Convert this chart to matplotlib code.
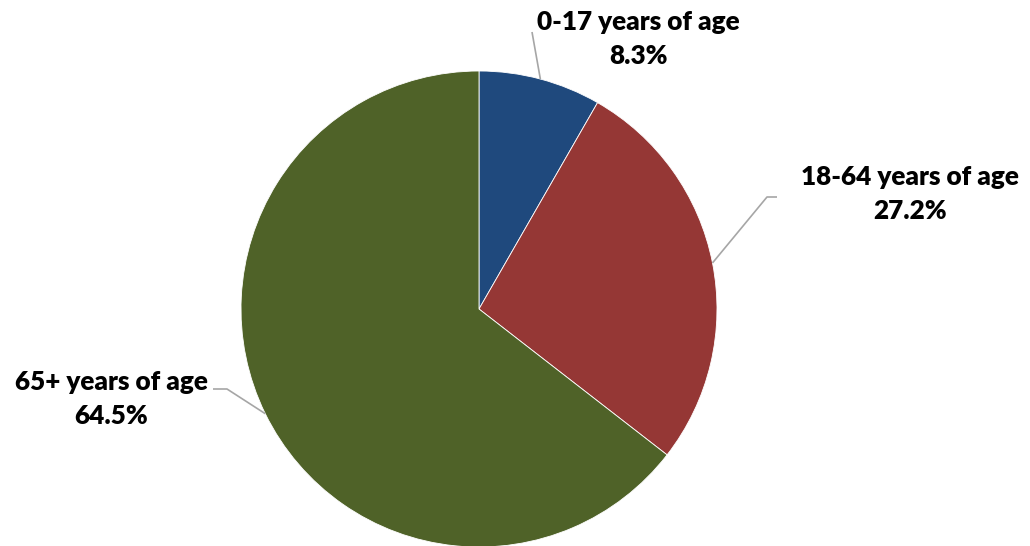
import numpy as np
import matplotlib
matplotlib.use("Agg")
import matplotlib.pyplot as plt

categories = ["0-17 years of age", "18-64 years of age", "65+ years of age"]
values = [8.3, 27.2, 64.5]
colors = ["#1F497D", "#953735", "#4F6228"]

W, H = 1030, 546
fig = plt.figure(figsize=(W / 100, H / 100), dpi=100)
ax = fig.add_axes([0, 0, 1, 1])

cx, cy, r = 479, H - 309, 238
wedges, _ = ax.pie(values, colors=colors, startangle=90, counterclock=False,
                   center=(cx, cy), radius=r, frame=True,
                   wedgeprops=dict(edgecolor="white", linewidth=0.6))
ax.set_xlim(0, W)
ax.set_ylim(0, H)
ax.set_aspect("equal")
ax.axis("off")

# label layout: (text center x, text center y in px from top, leader path elbows in px from top)
label_pos = [(638, 39, [(532, 32)]),
             (910, 194, [(767, 197), (777, 197)]),
             (111, 399, [(227, 389), (213, 389)])]

font = dict(family=["Lato", "DejaVu Sans"], fontsize=18.8, fontweight="heavy", color="black")
cum = 0.0
total = sum(values)
for cat, v, (tx, ty, path) in zip(categories, values, label_pos):
    mid = (cum + v / 2) / total * 2 * np.pi
    cum += v
    ax_x = cx + r * np.sin(mid)
    ax_y = cy + r * np.cos(mid)
    xs = [ax_x] + [p[0] for p in path]
    ys = [ax_y] + [H - p[1] for p in path]
    ax.plot(xs, ys, color="#A6A6A6", lw=1.2, zorder=1, solid_capstyle="butt")
    ax.text(tx, H - ty, f"{cat}\n{v:.1f}%", ha="center", va="center",
            linespacing=1.5, **font)

fig.savefig("out.png", dpi=100, facecolor="white")
